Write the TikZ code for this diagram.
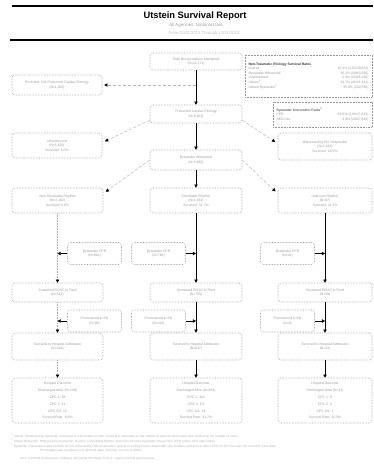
\documentclass[tikz,border=0pt]{standalone}
\usepackage{fontspec}
\setmainfont{Liberation Sans}
\usetikzlibrary{arrows.meta,calc}
\begin{document}
\begin{tikzpicture}[x=1pt,y=-1pt,
    box/.style={draw=gray!80, densely dotted, line width=0.55pt, rounded corners=3pt, align=center,
      inner sep=1pt, text=gray!80, font=\fontsize{3.4}{4.4}\selectfont},
    mainbox/.style={box, minimum width=91pt, minimum height=#1},
    sidebox/.style={box, minimum width=54pt, minimum height=22pt},
    bigbox/.style={box, minimum width=92pt, minimum height=45pt, font=\fontsize{3.4}{6.9}\selectfont},
    tab/.style={draw=gray!80, densely dotted, line width=0.55pt, inner sep=2pt, text=gray!80,
      font=\fontsize{3.4}{4.5}\selectfont},
    link/.style={-{Triangle[length=3.2pt,width=3.4pt]}, line width=0.6pt},
    faint/.style={-{Triangle[length=3.2pt,width=3.4pt,color=black]}, gray!55, densely dashed, line width=0.5pt},
    thin/.style={-{Triangle[length=3.2pt,width=3.4pt,color=black]}, gray!65, densely dotted, line width=0.6pt},
    note/.style={anchor=west, inner sep=0pt, text=gray!60, font=\fontsize{3.1}{3.6}\selectfont}]
    \useasboundingbox (0,0) rectangle (373,465);

    % Heading
    \draw[line width=1.8pt] (12,6) -- (373,6);
    \draw[line width=1.8pt] (10,40) -- (373,40);
    \node[font=\bfseries\fontsize{9.3}{11}\selectfont] (title) at (195,16) {Utstein Survival Report};
    \node[font=\fontsize{4.4}{5}\selectfont, text=gray!75] (sub) at (196,25) {All Agencies, National Data};
    \node[font=\fontsize{4.2}{5}\selectfont, text=gray!50] (dates) at (204,33) {From 01/01/2013 Through 12/31/2013};

    % Rate tables
    \node[tab, minimum width=127pt, minimum height=42pt] (rates) at (308.5,76) {%
      \setlength{\tabcolsep}{0pt}%
      \begin{tabular*}{120pt}{@{\extracolsep{\fill}}lr}
      \multicolumn{2}{l}{\textcolor{black!80}{\bfseries Non-Traumatic Etiology Survival Rates}}\\
      Overall &  10.4\% (1,031/9,921)\\
      Bystander Witnessed & 16.2\% (588/3,630)\\
      Unwitnessed & 5.0\% (258/5,150)\\
      Utstein\textsuperscript{1} & 31.7\% (454/1,431)\\
      Utstein Bystander\textsuperscript{2} & 35.9\% (282/786)
      \end{tabular*}};
    \node[tab, minimum width=99pt, minimum height=25pt] (byrates) at (322.5,114.5) {%
      \setlength{\tabcolsep}{0pt}%
      \begin{tabular*}{92pt}{@{\extracolsep{\fill}}lr}
      \multicolumn{2}{l}{\textcolor{black!80}{Bystander Intervention Rates\textsuperscript{3}}}\\
      CPR & 39.0\% (2,981/7,643)\\
      AED Use & 3.9\% (298/7,643)
      \end{tabular*}};

    % Upper chain
    \node[mainbox=17pt, minimum width=92pt] (total) at (196,61.5) {Total Resuscitations Attempted\\(N=11,271)};
    \node[mainbox=20pt, minimum width=90pt] (excl) at (57,85) {Excluded: Not Presumed Cardiac Etiology\\(N=1,350)};
    \node[mainbox=18pt, minimum width=92pt] (cardiac) at (196,114) {Presumed Cardiac Etiology\\(N=9,921)};
    \node[mainbox=25pt, minimum width=90pt] (unwit) at (57,145.5) {Unwitnessed\\(N=5,150)\\Survived: 5.0\%};
    \node[mainbox=27pt, minimum width=94pt] (ems) at (325,146.5) {Witnessed by 911 Responder\\(N=1,141)\\Survived: 16.5\%};
    \node[mainbox=20pt, minimum width=92pt] (bywit) at (196,160) {Bystander Witnessed\\(N=3,630)};

    % Rhythm columns
    \node[mainbox=25pt] (nonshock) at (57.5,200.5) {Non-Shockable Rhythm\\(N=2,102)\\Survived: 6.6\%};
    \node[mainbox=25pt, minimum width=92pt] (shock) at (196,200.5) {Shockable Rhythm\\(N=1,431)\\Survived: 31.7\%};
    \node[mainbox=25pt, minimum width=94pt] (unknown) at (325,200.5) {Unknown Rhythm\\(N=97)\\Survived: 11.3\%};

    \node[sidebox] (cprL) at (94.5,253.5) {Bystander CPR\\(N=801)};
    \node[sidebox] (cprC) at (158.5,253.5) {Bystander CPR\\(N=786)};
    \node[sidebox] (cprR) at (287.5,253.5) {Bystander CPR\\(N=41)};

    \node[mainbox=19pt] (roscL) at (57.5,292.5) {Sustained ROSC in Field\\(N=512)};
    \node[mainbox=19pt, minimum width=92pt] (roscC) at (196,292.5) {Sustained ROSC in Field\\(N=755)};
    \node[mainbox=19pt, minimum width=94pt] (roscR) at (325,292.5) {Sustained ROSC in Field\\(N=29)};

    \node[sidebox] (edL) at (94.5,321) {Pronounced in ED\\(N=94)};
    \node[sidebox] (edC) at (158.5,321) {Pronounced in ED\\(N=118)};
    \node[sidebox] (edR) at (287.5,321) {Pronounced in ED\\(N=6)};

    \node[mainbox=27pt] (admL) at (57.5,346.5) {Survived to Hospital Admission\\(N=418)};
    \node[mainbox=27pt, minimum width=92pt] (admC) at (196,346.5) {Survived to Hospital Admission\\(N=637)};
    \node[mainbox=27pt, minimum width=94pt] (admR) at (325,346.5) {Survived to Hospital Admission\\(N=23)};

    \node[bigbox, minimum width=91pt] (outL) at (57.5,400.5) {Hospital Outcome\\Discharged Alive (N=139)\\CPC 1: 98\\CPC 2: 21\\CPC 3/4: 12\\Survival Rate: 6.6\%};
    \node[bigbox] (outC) at (196,400.5) {Hospital Outcome\\Discharged Alive (N=454)\\CPC 1: 341\\CPC 2: 63\\CPC 3/4: 34\\Survival Rate: 31.7\%};
    \node[bigbox, minimum width=94pt] (outR) at (325,400.5) {Hospital Outcome\\Discharged Alive (N=11)\\CPC 1: 8\\CPC 2: 2\\CPC 3/4: 1\\Survival Rate: 11.3\%};

    % Connectors
    \draw[link] (total) -- (cardiac);
    \draw[faint, shorten >=2pt] (total.south |- excl.east) -- (excl.east);
    \draw[faint, shorten >=3pt] ([yshift=3pt]cardiac.south west) -- ([yshift=3pt]unwit.east);
    \draw[faint, shorten >=3pt] ([yshift=3pt]cardiac.south east) -- ([yshift=3pt]ems.west);
    \draw[link] (cardiac) -- (bywit);
    \draw[faint, shorten >=3pt] (bywit.west) -- ([yshift=7pt]nonshock.east);
    \draw[faint, shorten >=3pt] (bywit.east) -- ([yshift=7pt]unknown.west);
    \draw[link] (bywit) -- (shock);

    \draw[thin] (nonshock) -- (roscL);
    \draw[thin] (roscL) -- (admL);
    \draw[thin] (admL) -- (outL);
    \foreach \a/\b in {shock/roscC, roscC/admC, admC/outC, unknown/roscR, roscR/admR, admR/outR}
      \draw[link] (\a) -- (\b);

    \foreach \s/\c in {cprL/nonshock, edL/nonshock}
      \draw[link] (\s.west) -- (\s.west -| \c.south);
    \foreach \s/\c in {cprC/shock, edC/shock, cprR/unknown, edR/unknown}
      \draw[link] (\s.east) -- (\s.east -| \c.south);

    % Notes
    \node[note] (n1) at (11,436) {\textsuperscript{1} Utstein: Witnessed by bystander and found in a shockable rhythm. Survival is calculated as the number of patients discharged alive divided by the number of cases.};
    \node[note] (n2) at (11,441) {\textsuperscript{2} Utstein Bystander: Witnessed by bystander, found in a shockable rhythm, and received some bystander intervention (CPR and/or AED application).};
    \node[note] (n3) at (11,446) {\textsuperscript{3} Bystander intervention rates exclude arrests witnessed by 911 responders, arrests in nursing homes and health care facilities, and arrests where CPR or AED use was not recorded in the data.};
    \node[note] (n4) at (40,451) {Percentages are rounded to one decimal place and may not sum to 100\%.};
    \node[note] (n5) at (20,459) {CPC: Cerebral Performance Category at hospital discharge (CPC 1 = good cerebral performance).};
\end{tikzpicture}
\end{document}
